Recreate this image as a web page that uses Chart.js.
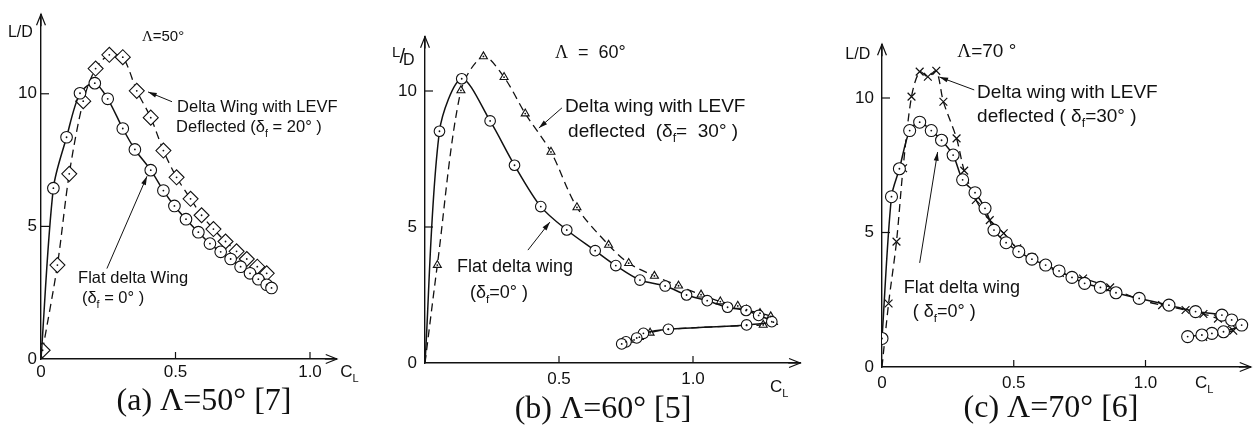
<!DOCTYPE html>
<html>
<head>
<meta charset="utf-8">
<script src="https://cdn.jsdelivr.net/npm/chart.js@4.4.0/dist/chart.umd.min.js"></script>
<style>
  body { margin: 0; background: #fff; width: 1258px; height: 426px; position: relative; overflow: hidden; }
  canvas { position: absolute; top: 0; }
  .cap { position: absolute; line-height: 36px; font-size: 32px; font-family: "Liberation Serif", serif;
         color: #111; white-space: nowrap; transform: translateX(-50%); }
</style>
</head>
<body>
<canvas id="pa" width="380" height="426" style="left:0px"></canvas>
<canvas id="pb" width="445" height="426" style="left:380px"></canvas>
<canvas id="pc" width="428" height="426" style="left:830px"></canvas>
<div class="cap" style="left:204px; top:381px">(a) Λ=50° [7]</div>
<div class="cap" style="left:603px; top:389px">(b) Λ=60° [5]</div>
<div class="cap" style="left:1051px; top:388px">(c) Λ=70° [6]</div>

<script>
/* ================= DATA ================= */

// (a) sweep 50°
const A_FLAT_CL = [0, 0.046, 0.095, 0.145, 0.200, 0.248, 0.304, 0.349, 0.408, 0.455, 0.496, 0.539, 0.585, 0.628, 0.668, 0.705, 0.742, 0.777, 0.808, 0.839, 0.857];
const A_FLAT_LD = [0, 6.44, 8.36, 10.02, 10.40, 9.81, 8.69, 7.90, 7.12, 6.35, 5.77, 5.27, 4.78, 4.35, 4.04, 3.77, 3.48, 3.23, 3.01, 2.80, 2.68];
const A_LEVF_CL = [0.006, 0.061, 0.105, 0.157, 0.203, 0.254, 0.304, 0.356, 0.408, 0.455, 0.504, 0.556, 0.597, 0.641, 0.686, 0.727, 0.765, 0.804, 0.839];
const A_LEVF_LD = [0.33, 3.54, 6.98, 9.72, 10.95, 11.47, 11.38, 10.11, 9.10, 7.86, 6.85, 6.04, 5.42, 4.90, 4.43, 4.06, 3.77, 3.48, 3.23];

// (b) sweep 60°
const B_FLAT_CL = [0, 0.054, 0.137, 0.243, 0.334, 0.432, 0.529, 0.635, 0.712, 0.802, 0.896, 0.976, 1.053, 1.129, 1.198, 1.245, 1.294, 1.200, 0.908, 0.815, 0.790, 0.750, 0.734];
const B_FLAT_LD = [0, 8.52, 10.45, 8.90, 7.27, 5.75, 4.89, 4.13, 3.58, 3.05, 2.83, 2.50, 2.29, 2.05, 1.93, 1.75, 1.52, 1.40, 1.24, 1.09, 0.92, 0.78, 0.70];
const B_LEVF_CL = [0, 0.046, 0.134, 0.218, 0.295, 0.374, 0.470, 0.567, 0.685, 0.760, 0.856, 0.946, 1.030, 1.102, 1.167, 1.200, 1.250, 1.290, 1.300, 1.262, 1.200, 0.908, 0.840, 0.800, 0.780];
const B_LEVF_LD = [0, 3.60, 10.02, 11.27, 10.51, 9.17, 7.76, 5.72, 4.34, 3.67, 3.20, 2.84, 2.51, 2.26, 2.10, 1.96, 1.83, 1.71, 1.50, 1.40, 1.38, 1.24, 1.11, 0.95, 0.85];

// (c) sweep 70°
const C_FLAT_CL = [0, 0.036, 0.066, 0.105, 0.143, 0.187, 0.226, 0.270, 0.306, 0.353, 0.391, 0.425, 0.471, 0.519, 0.569, 0.621, 0.672, 0.721, 0.769, 0.829, 0.888, 0.976, 1.089, 1.190, 1.290, 1.327, 1.365, 1.296, 1.252, 1.214, 1.160];
const C_FLAT_LD = [1.06, 6.33, 7.37, 8.79, 9.10, 8.79, 8.43, 7.88, 6.96, 6.48, 5.90, 5.09, 4.62, 4.29, 4.01, 3.79, 3.57, 3.33, 3.11, 2.96, 2.76, 2.55, 2.30, 2.06, 1.93, 1.75, 1.56, 1.31, 1.25, 1.19, 1.13];
const C_LEVF_CL = [0, 0.025, 0.055, 0.080, 0.112, 0.143, 0.174, 0.206, 0.233, 0.283, 0.312, 0.356, 0.409, 0.462, 0.513, 0.569, 0.615, 0.675, 0.763, 0.866, 0.975, 1.063, 1.152, 1.220, 1.275, 1.325, 1.333, 1.252, 1.219];
const C_LEVF_LD = [0, 2.36, 4.66, 7.39, 10.05, 10.98, 10.79, 11.01, 9.86, 8.50, 7.30, 6.21, 5.46, 4.97, 4.41, 4.07, 3.79, 3.50, 3.29, 2.96, 2.51, 2.30, 2.12, 1.97, 1.80, 1.61, 1.35, 1.25, 1.12];

// axis ticks
const X_TICKS = [0, 0.5, 1.0];
const Y_TICKS = [0, 5, 10];
const A_X_LABELS = ["0", "0.5", "1.0"];
const B_X_LABELS = ["", "0.5", "1.0"];
const C_X_LABELS = ["0", "0.5", "1.0"];
const Y_LABELS = ["0", "5", "10"];

/* ================= HELPERS ================= */

const INK = "#111";
const SANS = '"Liberation Sans", Arial, sans-serif';
const SERIF = '"Liberation Serif", serif';
const AXIS_W = 30, AXIS_H = 30;

const pts = (xs, ys) => xs.map((v, i) => ({ x: v, y: ys[i] }));

function drawParts(ctx, x, y, size, parts) {
    parts.forEach(p => {
        const fs = p.size || (p.sub ? size * 0.65 : size);
        ctx.font = `${fs}px ${p.serif ? SERIF : SANS}`;
        const dy = (p.dy || 0) + (p.sub ? size * 0.28 : 0);
        x += p.dx || 0;
        ctx.fillText(p.t, x, y + dy);
        x += ctx.measureText(p.t).width;
    });
}

function pointer(ctx, x1, y1, x2, y2, head, filled) {
    ctx.beginPath();
    ctx.moveTo(x1, y1);
    ctx.lineTo(x2, y2);
    ctx.stroke();
    const a = Math.atan2(y2 - y1, x2 - x1);
    const w = filled ? 0.28 : 0.38;
    ctx.beginPath();
    ctx.moveTo(x2 - head * Math.cos(a - w), y2 - head * Math.sin(a - w));
    ctx.lineTo(x2, y2);
    ctx.lineTo(x2 - head * Math.cos(a + w), y2 - head * Math.sin(a + w));
    if (filled) { ctx.closePath(); ctx.fill(); } else ctx.stroke();
}

function decorFor(p) {
    return {
        id: "decor",
        afterDatasetsDraw(chart) {
            const { ctx, chartArea: a, scales: { x, y } } = chart;
            const X = v => x.getPixelForValue(v), Y = v => y.getPixelForValue(v);
            ctx.save();
            ctx.strokeStyle = INK;
            ctx.fillStyle = INK;

            /* centre dots in the open markers */
            chart.data.datasets.forEach((ds, i) => {
                if (!ds.dotted) return;
                chart.getDatasetMeta(i).data.forEach(pt => {
                    if (pt.options.radius > 0) {
                        ctx.beginPath();
                        ctx.arc(pt.x, pt.y, 0.9, 0, Math.PI * 2);
                        ctx.fill();
                    }
                });
            });

            /* inward tick marks */
            ctx.lineWidth = 1.2;
            x.ticks.forEach(t => {
                if (t.value === 0) return;
                ctx.beginPath();
                ctx.moveTo(X(t.value), a.bottom);
                ctx.lineTo(X(t.value), a.bottom - 7);
                ctx.stroke();
            });
            y.ticks.forEach(t => {
                if (t.value === 0) return;
                ctx.beginPath();
                ctx.moveTo(a.left - 1, Y(t.value));
                ctx.lineTo(a.left + 8, Y(t.value));
                ctx.stroke();
            });

            /* axis arrow heads */
            pointer(ctx, a.left, a.top + 12, a.left, a.top, 12, false);
            pointer(ctx, a.right - 12, a.bottom, a.right, a.bottom, 12, false);

            /* annotation pointers */
            ctx.lineWidth = 1;
            p.arrows.forEach(r => pointer(ctx, X(r[0]), Y(r[1]), X(r[2]), Y(r[3]), 9, true));

            /* texts */
            ctx.textBaseline = "alphabetic";
            ctx.textAlign = "left";
            p.notes.forEach(n => drawParts(ctx, X(n.x), Y(n.y), n.size, n.parts));
            ctx.restore();
        }
    };
}

function dataset(data, style) {
    return Object.assign({
        data,
        showLine: true,
        tension: 0.3,
        borderColor: INK,
        pointBorderColor: INK,
        pointBackgroundColor: "#fff",
        pointBorderWidth: 1.1,
        pointHoverRadius: 0
    }, style);
}

function hideOrigin(r) {
    return ctx => (ctx.raw && ctx.raw.x === 0 && ctx.raw.y === 0) ? 0 : r;
}

/* ================= PANEL BUILDER ================= */

function makePanel(p) {
    const chartLeft = p.ox - p.left;
    const chartRight = chartLeft + p.xMax * p.sx;
    const chartTop = p.oy - p.yMax * p.sy;

    new Chart(document.getElementById(p.id), {
        type: "scatter",
        data: { datasets: p.datasets },
        options: {
            responsive: false,
            animation: false,
            events: [],
            layout: {
                padding: {
                    left: chartLeft - AXIS_W,
                    right: p.width - chartRight,
                    top: chartTop,
                    bottom: 426 - p.oy - AXIS_H
                }
            },
            plugins: { legend: { display: false }, tooltip: { enabled: false } },
            scales: {
                x: {
                    type: "linear", min: 0, max: p.xMax,
                    afterFit: s => { s.height = AXIS_H; },
                    afterBuildTicks: s => { s.ticks = X_TICKS.map(v => ({ value: v })); },
                    grid: { display: false, drawTicks: false },
                    border: { display: true, color: INK, width: 1.4 },
                    ticks: {
                        color: INK, padding: p.xPad, maxRotation: 0,
                        font: { family: SANS, size: 17 },
                        callback: (v, i) => p.xLabels[i]
                    }
                },
                y: {
                    type: "linear", min: 0, max: p.yMax,
                    afterFit: s => { s.width = AXIS_W; },
                    afterBuildTicks: s => { s.ticks = Y_TICKS.map(v => ({ value: v })); },
                    grid: { display: false, drawTicks: false },
                    border: { display: true, color: INK, width: 1.4 },
                    ticks: {
                        color: INK, padding: p.yPad,
                        font: { family: SANS, size: 17 },
                        callback: (v, i) => Y_LABELS[i]
                    }
                }
            }
        },
        plugins: [decorFor(p)]
    });
}

/* ================= PANELS ================= */

const SOLID = { borderWidth: 1.5, borderDash: [] };
const DASHED = { borderWidth: 1.3, borderDash: [8, 5] };

makePanel({
    id: "pa", left: 0, width: 380,
    ox: 41, oy: 359, sx: 269, sy: 27, xMax: 1.1, yMax: 13,
    xPad: 3, yPad: 4, xLabels: A_X_LABELS,
    datasets: [
        dataset(pts(A_FLAT_CL, A_FLAT_LD), Object.assign({ pointStyle: "circle", pointRadius: hideOrigin(5.8), dotted: true }, SOLID)),
        dataset(pts(A_LEVF_CL, A_LEVF_LD), Object.assign({ pointStyle: "rectRot", pointRadius: 7.5, dotted: true }, DASHED))
    ],
    arrows: [[0.487, 9.70, 0.398, 10.07], [0.245, 3.41, 0.394, 6.89]],
    notes: [
        { x: 0.506, y: 9.30, size: 16.5, parts: [{ t: "Delta Wing with LEVF" }] },
        { x: 0.502, y: 8.56, size: 16.5, parts: [{ t: "Deflected (" }, { t: "δ" }, { t: "f", sub: 1 }, { t: " = 20° )" }] },
        { x: 0.138, y: 2.85, size: 16.5, parts: [{ t: "Flat delta Wing" }] },
        { x: 0.152, y: 2.11, size: 16.5, parts: [{ t: "(" }, { t: "δ" }, { t: "f", sub: 1 }, { t: " = 0° )" }] },
        { x: 0.375, y: 12.0, size: 15, parts: [{ t: "Λ", serif: 1 }, { t: "=50°" }] },
        { x: -0.123, y: 12.15, size: 16, parts: [{ t: "L/D" }] },
        { x: 1.112, y: -0.67, size: 17, parts: [{ t: "C" }, { t: "L", sub: 1 }] }
    ]
});

makePanel({
    id: "pb", left: 380, width: 445,
    ox: 425, oy: 363, sx: 268, sy: 27.2, xMax: 1.4, yMax: 12,
    xPad: 6, yPad: 8, xLabels: B_X_LABELS,
    datasets: [
        dataset(pts(B_FLAT_CL, B_FLAT_LD), Object.assign({ pointStyle: "circle", pointRadius: hideOrigin(5.3), dotted: true }, SOLID)),
        dataset(pts(B_LEVF_CL, B_LEVF_LD), Object.assign({ pointStyle: "triangle", pointRadius: hideOrigin(4.6), dotted: true }, DASHED))
    ],
    arrows: [[0.511, 9.38, 0.425, 8.64], [0.384, 4.15, 0.466, 5.18]],
    notes: [
        { x: 0.522, y: 9.23, size: 19, parts: [{ t: "Delta wing with LEVF" }] },
        { x: 0.534, y: 8.31, size: 19, parts: [{ t: "deflected  (" }, { t: "δ" }, { t: "f", sub: 1 }, { t: "=  30° )" }] },
        { x: 0.119, y: 3.35, size: 18, parts: [{ t: "Flat delta wing" }] },
        { x: 0.168, y: 2.39, size: 18, parts: [{ t: "(" }, { t: "δ" }, { t: "f", sub: 1 }, { t: "=0° )" }] },
        { x: 0.485, y: 11.21, size: 18, parts: [{ t: "Λ", serif: 1 }, { t: "  =  60°" }] },
        { x: -0.123, y: 11.25, size: 16, parts: [{ t: "L", size: 15 }, { t: "/", size: 20, dx: -1, dy: 6 }, { t: "D", size: 16, dx: -2, dy: 8 }] },
        { x: 1.287, y: -1.07, size: 17, parts: [{ t: "C" }, { t: "L", sub: 1 }] }
    ]
});

makePanel({
    id: "pc", left: 830, width: 428,
    ox: 882, oy: 367, sx: 266, sy: 26.9, xMax: 1.4, yMax: 12,
    xPad: 6, yPad: 8, xLabels: C_X_LABELS,
    datasets: [
        dataset(pts(C_FLAT_CL, C_FLAT_LD), Object.assign({ pointStyle: "circle", pointRadius: hideOrigin(6), dotted: true }, SOLID)),
        dataset(pts(C_LEVF_CL, C_LEVF_LD), Object.assign({ pointStyle: "crossRot", pointRadius: hideOrigin(5.5), pointBorderWidth: 1.2 }, DASHED))
    ],
    arrows: [[0.350, 10.30, 0.218, 10.78], [0.143, 3.87, 0.211, 7.99]],
    notes: [
        { x: 0.361, y: 10.0, size: 19, parts: [{ t: "Delta wing with LEVF" }] },
        { x: 0.361, y: 9.11, size: 19, parts: [{ t: "deflected ( " }, { t: "δ" }, { t: "f", sub: 1 }, { t: "=30° )" }] },
        { x: 0.083, y: 2.75, size: 18, parts: [{ t: "Flat delta wing" }] },
        { x: 0.117, y: 1.86, size: 18, parts: [{ t: "( " }, { t: "δ" }, { t: "f", sub: 1 }, { t: "=0° )" }] },
        { x: 0.286, y: 11.52, size: 19, parts: [{ t: "Λ", serif: 1 }, { t: "=70 °" }] },
        { x: -0.139, y: 11.45, size: 16, parts: [{ t: "L/D" }] },
        { x: 1.188, y: -0.78, size: 17, parts: [{ t: "C" }, { t: "L", sub: 1 }] }
    ]
});
</script>
</body>
</html>
